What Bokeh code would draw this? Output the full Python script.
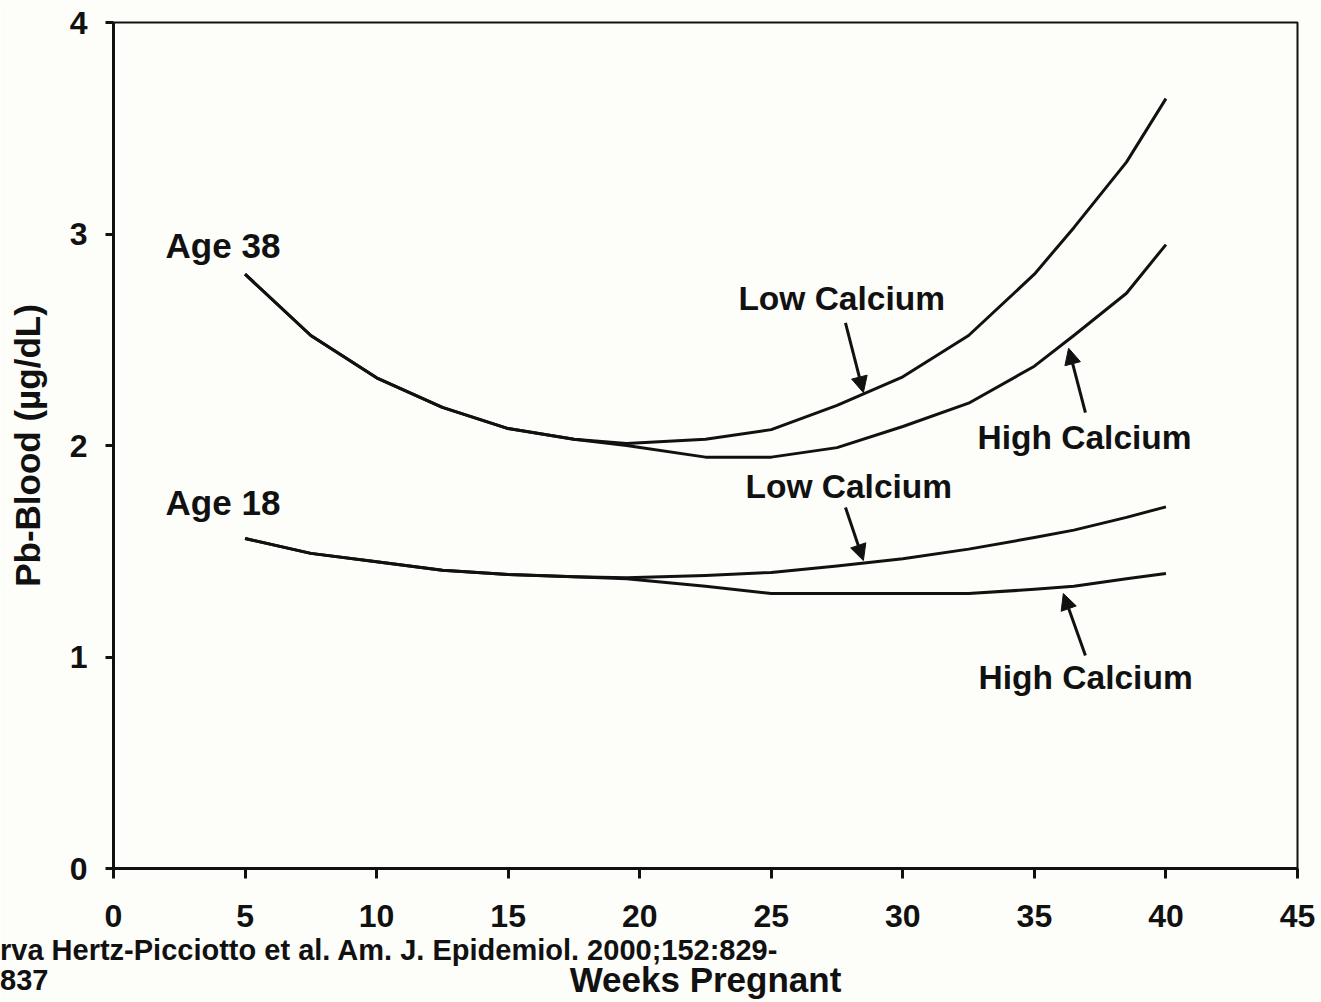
from bokeh.plotting import figure
from bokeh.models import Range1d, Label, Arrow, NormalHead, FixedTicker, ColumnDataSource, Div
from bokeh.layouts import column
from bokeh.embed import file_html
from bokeh.resources import INLINE

# ---- data ----
weeks = [5, 7.5, 10, 12.5, 15, 17.5, 19.5, 22.5, 25, 27.5, 30, 32.5, 35, 36.5, 38.5, 40]
age38_low_calcium = [2.81, 2.52, 2.32, 2.18, 2.08, 2.03, 2.01, 2.03, 2.075, 2.19, 2.325, 2.52, 2.81, 3.03, 3.34, 3.64]
age38_high_calcium = [2.81, 2.52, 2.32, 2.18, 2.08, 2.03, 2.00, 1.945, 1.945, 1.99, 2.09, 2.20, 2.375, 2.52, 2.72, 2.95]
age18_low_calcium = [1.56, 1.49, 1.45, 1.41, 1.39, 1.38, 1.375, 1.385, 1.40, 1.43, 1.465, 1.51, 1.565, 1.60, 1.66, 1.71]
age18_high_calcium = [1.56, 1.49, 1.45, 1.41, 1.39, 1.38, 1.37, 1.335, 1.30, 1.30, 1.30, 1.30, 1.32, 1.335, 1.37, 1.395]

x_ticks = [0, 5, 10, 15, 20, 25, 30, 35, 40, 45]
y_ticks = [0, 1, 2, 3, 4]

# annotation texts and anchor points (data units)
label_texts = ["Age 38", "Age 18", "Low Calcium", "High Calcium", "Low Calcium", "High Calcium"]
label_x = [1.98, 1.98, 23.75, 32.84, 24.02, 32.88]
label_y = [2.945, 1.73, 2.695, 2.037, 1.806, 0.903]
label_sizes = ["35px", "35px", "33.5px", "33.5px", "33.5px", "33.5px"]

arrow_x_start = [27.82, 36.94, 27.82, 36.94]
arrow_y_start = [2.58, 2.156, 1.707, 1.007]
arrow_x_end = [28.5, 36.3, 28.5, 36.1]
arrow_y_end = [2.25, 2.46, 1.456, 1.30]

citation_lines = ["rva Hertz-Picciotto et al. Am. J. Epidemiol. 2000;152:829-", "837"]

FONT = "Liberation Sans"
INK = "#111111"
BG = "#fdfdfa"

p = figure(width=1321, height=1002, output_backend="svg", toolbar_location=None,
           x_range=Range1d(0, 45), y_range=Range1d(0, 4),
           min_border_left=113, min_border_right=24, min_border_top=22, min_border_bottom=134,
           background_fill_color=BG, border_fill_color=BG)

p.grid.visible = False
p.outline_line_color = INK
p.outline_line_width = 2

for ax in (p.xaxis[0], p.yaxis[0]):
    ax.axis_line_width = 3
    ax.axis_line_color = INK
    ax.major_tick_line_width = 3
    ax.major_tick_line_color = INK
    ax.major_tick_in = 0
    ax.minor_tick_line_color = None
    ax.major_label_text_font = FONT
    ax.major_label_text_font_style = "bold"
    ax.major_label_text_font_size = "32px"
    ax.major_label_text_color = INK
    ax.axis_label_text_font = FONT
    ax.axis_label_text_font_style = "bold"
    ax.axis_label_text_font_size = "35px"
    ax.axis_label_text_color = INK

p.xaxis[0].ticker = FixedTicker(ticks=x_ticks)
p.yaxis[0].ticker = FixedTicker(ticks=y_ticks)
p.xaxis[0].major_tick_out = 10
p.yaxis[0].major_tick_out = 8
p.xaxis[0].major_label_standoff = 26
p.yaxis[0].major_label_standoff = 18
p.xaxis[0].axis_label = "Weeks Pregnant"
p.yaxis[0].axis_label = "Pb-Blood (µg/dL)"
p.xaxis[0].axis_label_standoff = 30
p.yaxis[0].axis_label_standoff = 20

src = ColumnDataSource(dict(weeks=weeks, a38l=age38_low_calcium, a38h=age38_high_calcium,
                            a18l=age18_low_calcium, a18h=age18_high_calcium))
for col in ("a38h", "a38l", "a18h", "a18l"):
    p.line("weeks", col, source=src, line_color=INK, line_width=3, line_join="round")

for t, x, y, s in zip(label_texts, label_x, label_y, label_sizes):
    p.add_layout(Label(x=x, y=y, text=t, text_font=FONT, text_font_style="bold",
                       text_font_size=s, text_color=INK, text_baseline="alphabetic",
                       text_align="left"))

for xs, ys, xe, ye in zip(arrow_x_start, arrow_y_start, arrow_x_end, arrow_y_end):
    p.add_layout(Arrow(x_start=xs, y_start=ys, x_end=xe, y_end=ye, line_width=3, line_color=INK,
                       end=NormalHead(size=16, fill_color=INK, line_color=INK, line_width=1)))

# citation: an HTML block overlapping the lower-left corner of the figure
citation = Div(text="<br>".join(citation_lines), width=900, height=62,
               margin=(-67, 0, 0, 0),
               styles={"font-family": FONT, "font-weight": "bold", "font-size": "29px",
                       "line-height": "30px", "color": INK, "white-space": "nowrap"})

layout = column(p, citation, spacing=0)
open("out.html", "w").write(file_html(layout, INLINE))
